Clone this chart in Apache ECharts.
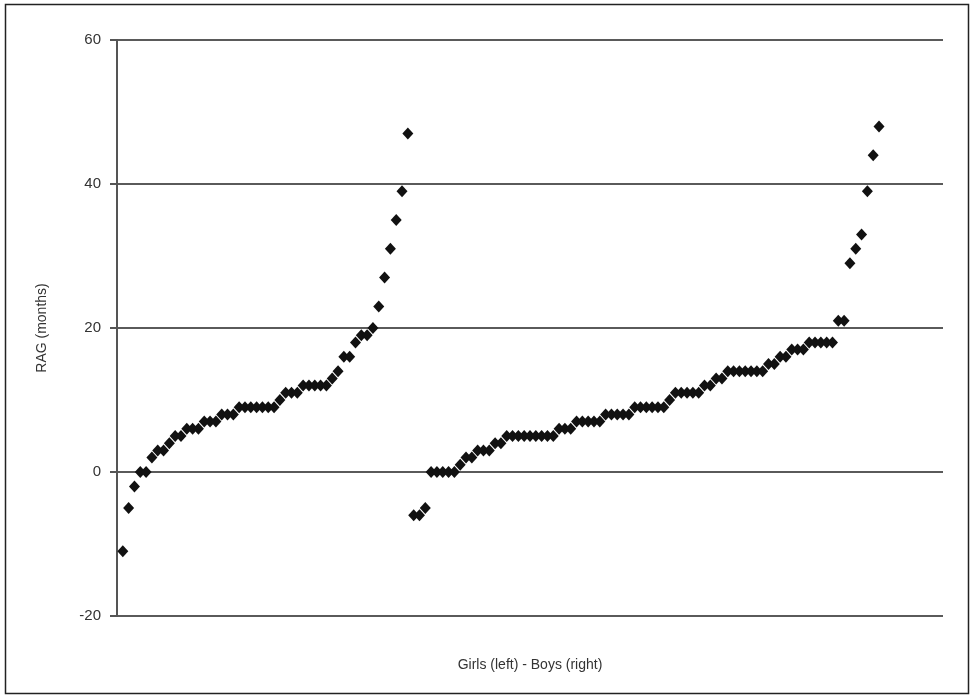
<!DOCTYPE html>
<html>
<head>
<meta charset="utf-8">
<script src="https://cdn.jsdelivr.net/npm/echarts@6/dist/echarts.min.js"></script>
<style>
html,body{margin:0;padding:0;background:#fff;}
#chart{width:974px;height:698px;}
</style>
</head>
<body>
<div id="chart"></div>
<script>
// Girls (left), sorted RAG values in months
const girlsRAG = [-11, -5, -2, 0, 0, 2, 3, 3, 4, 5, 5, 6, 6, 6, 7, 7, 7, 8, 8, 8,
  9, 9, 9, 9, 9, 9, 9, 10, 11, 11, 11, 12, 12, 12, 12, 12, 13, 14, 16, 16,
  18, 19, 19, 20, 23, 27, 31, 35, 39, 47];
// Boys (right), sorted RAG values in months
const boysRAG = [-6, -6, -5, 0, 0, 0, 0, 0, 1, 2, 2, 3, 3, 3, 4, 4, 5, 5, 5, 5,
  5, 5, 5, 5, 5, 6, 6, 6, 7, 7, 7, 7, 7, 8, 8, 8, 8, 8, 9, 9,
  9, 9, 9, 9, 10, 11, 11, 11, 11, 11, 12, 12, 13, 13, 14, 14, 14, 14, 14, 14,
  14, 15, 15, 16, 16, 17, 17, 17, 18, 18, 18, 18, 18, 21, 21, 29, 31, 33, 39, 44, 48];
const yTicks = [-20, 0, 20, 40, 60];
const yTitle = 'RAG (months)';
const xTitle = 'Girls (left) - Boys (right)';

const allVals = girlsRAG.concat(boysRAG);
const points = allVals.map((v, i) => [i + 1, v]);

const font = 'Liberation Sans, Arial, sans-serif';
const chart = echarts.init(document.getElementById('chart'), null, {renderer: 'canvas'});
chart.setOption({
  backgroundColor: '#fff',
  animation: false,
  graphic: [{
    type: 'rect',
    shape: {x: 5.5, y: 4.5, width: 963, height: 689},
    style: {fill: 'none', stroke: '#222', lineWidth: 1.5},
    z: 0
  }],
  grid: {left: 117, right: 31, top: 40, bottom: 82, containLabel: false},
  xAxis: {
    type: 'value', min: 0, max: 142,
    name: xTitle, nameLocation: 'middle', nameGap: 42,
    nameTextStyle: {fontFamily: font, fontSize: 14, color: '#333'},
    axisLine: {show: false}, axisTick: {show: false}, axisLabel: {show: false},
    splitLine: {show: false}
  },
  yAxis: {
    type: 'value', min: yTicks[0], max: yTicks[yTicks.length - 1], interval: 20,
    name: yTitle, nameLocation: 'middle', nameGap: 68, nameRotate: 90,
    nameTextStyle: {fontFamily: font, fontSize: 14, color: '#333'},
    axisLine: {show: true, lineStyle: {color: '#555', width: 2}},
    axisTick: {show: true, inside: false, length: 7, lineStyle: {color: '#555', width: 2}},
    axisLabel: {margin: 16, fontFamily: font, fontSize: 15, color: '#333'},
    splitLine: {show: true, lineStyle: {color: '#5a5a5a', width: 2}}
  },
  series: [{
    type: 'scatter',
    data: points,
    symbol: 'diamond',
    symbolSize: [11, 12],
    itemStyle: {color: '#111', opacity: 1},
    z: 5
  }]
});
</script>
</body>
</html>
